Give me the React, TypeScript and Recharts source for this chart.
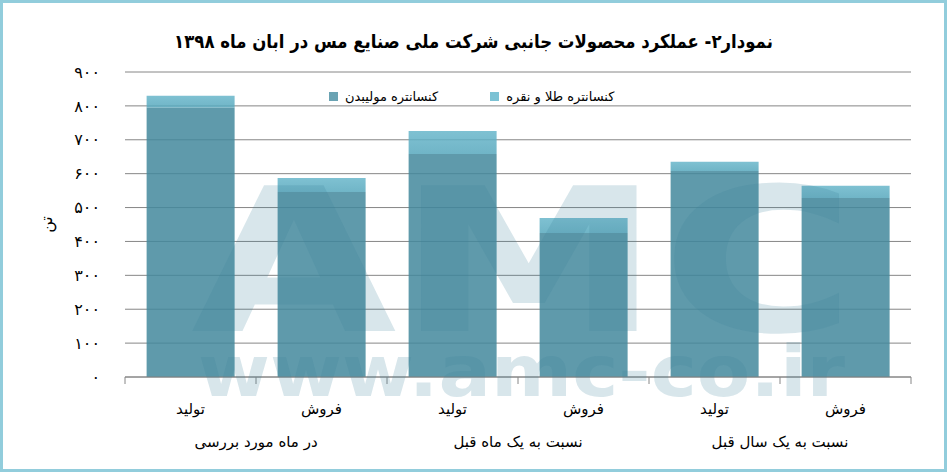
import { BarChart, Bar, XAxis, YAxis, CartesianGrid } from "recharts";

// values (tonnes)
const CATEGORIES = ["تولید", "فروش", "تولید", "فروش", "تولید", "فروش"];
const GROUPS = ["در ماه مورد بررسی", "نسبت به یک ماه قبل", "نسبت به یک سال قبل"];
const MOLYBDENUM = [795, 546, 658, 425, 608, 528];
const GOLD_SILVER = [35, 41, 68, 44, 27, 36];
const Y_TICKS = [0, 100, 200, 300, 400, 500, 600, 700, 800, 900];

const TITLE = "نمودار۲- عملکرد محصولات جانبی شرکت ملی صنایع مس در ابان ماه ۱۳۹۸";
const MO_NAME = "کنسانتره مولیبدن";
const GOLD_NAME = "کنسانتره طلا و نقره";

const data = CATEGORIES.map((name, i) => ({
  name,
  group: GROUPS[Math.floor(i / 2)],
  mo: MOLYBDENUM[i],
  gold: GOLD_SILVER[i],
}));

const W = 947;
const H = 472;
const MARGIN = { top: 72, right: 36, bottom: 14, left: 0 };
const Y_WIDTH = 125;
const BAND = (W - MARGIN.right - Y_WIDTH) / data.length;
const FONT = "'DejaVu Sans', sans-serif";
const AXIS_GRAY = "#868686";

const PERSIAN = "۰۱۲۳۴۵۶۷۸۹";
const toPersian = (v: number) =>
  String(v).replace(/\d/g, (d) => PERSIAN[Number(d)]);

function CategoryTick(props: any) {
  const { x, y, payload, index } = props;
  const left = x - BAND / 2;
  const isLast = index === data.length - 1;
  return (
    <g>
      <line x1={left} y1={y} x2={left} y2={y + 7} stroke={AXIS_GRAY} />
      {isLast && (
        <line x1={left + BAND} y1={y} x2={left + BAND} y2={y + 7} stroke={AXIS_GRAY} />
      )}
      <text x={x} y={y + 37} textAnchor="middle" fontSize={15} fill="#000" fontFamily={FONT}>
        {payload.value}
      </text>
      {index % 2 === 1 && (
        <text x={left} y={y + 70} textAnchor="middle" fontSize={15} fill="#000" fontFamily={FONT}>
          {data[index].group}
        </text>
      )}
    </g>
  );
}

function Swatch({ color }: { color: string }) {
  return <span style={{ display: "inline-block", width: 9, height: 9, background: color, marginRight: 7 }} />;
}

export default function App() {
  return (
    <div
      style={{
        position: "absolute",
        left: 0,
        top: 0,
        width: W,
        height: H,
        boxSizing: "border-box",
        border: "3px solid #92CDDC",
        background: "#fff",
        fontFamily: FONT,
      }}
    >
      <div style={{ position: "absolute", left: -3, top: -3 }}>
        <BarChart width={W} height={H} data={data} margin={MARGIN} barCategoryGap="16.5%">
          <defs>
            <linearGradient id="goldFill" x1="0" y1="0" x2="0" y2="1">
              <stop offset="0%" stopColor="#68B6CA" />
              <stop offset="100%" stopColor="#57A8BD" />
            </linearGradient>
          </defs>
          <CartesianGrid vertical={false} stroke={AXIS_GRAY} />
          <XAxis
            dataKey="name"
            height={81}
            interval={0}
            tickLine={false}
            tickSize={0}
            tickMargin={0}
            axisLine={{ stroke: AXIS_GRAY }}
            tick={CategoryTick}
          />
          <YAxis
            width={Y_WIDTH}
            domain={[0, 900]}
            ticks={Y_TICKS}
            tickFormatter={toPersian}
            axisLine={false}
            tickLine={false}
            tickSize={0}
            tickMargin={25}
            tick={{ fontSize: 16, fill: "#000", fontFamily: FONT }}
            label={{
              value: "تن",
              angle: -90,
              position: "insideLeft",
              offset: 46,
              style: { textAnchor: "middle", fontSize: 16, fill: "#000", fontFamily: FONT },
            }}
          />
          <Bar dataKey="mo" name={MO_NAME} stackId="a" fill="#43889C" fillOpacity={0.85} isAnimationActive={false} />
          <Bar dataKey="gold" name={GOLD_NAME} stackId="a" fill="url(#goldFill)" fillOpacity={0.85} isAnimationActive={false} />
        </BarChart>
      </div>

      {/* watermark */}
      <svg
        width={W}
        height={H}
        style={{ position: "absolute", left: -3, top: -3, pointerEvents: "none" }}
      >
        <g fill="rgb(60,130,155)" fillOpacity={0.2} fontFamily={FONT} fontWeight="bold">
          <text x={191} y={331} fontSize={200} textLength={665} lengthAdjust="spacingAndGlyphs">
            AMC
          </text>
          <text x={198} y={396} fontSize={72} textLength={647} lengthAdjust="spacingAndGlyphs">
            www.amc-co.ir
          </text>
        </g>
      </svg>

      <div
        style={{
          position: "absolute",
          left: -3,
          top: 27,
          width: W,
          textAlign: "center",
          fontSize: 19,
          fontWeight: "bold",
          color: "#000",
          direction: "rtl",
          transform: "scaleX(0.87)",
        }}
      >
        {TITLE}
      </div>

      <div
        style={{
          position: "absolute",
          left: 326,
          top: 86,
          display: "flex",
          alignItems: "center",
          fontSize: 13,
          color: "#000",
        }}
      >
        <Swatch color="#6AA3B3" />
        <span style={{ marginRight: 52 }}>{MO_NAME}</span>
        <Swatch color="#7CC2D4" />
        <span>{GOLD_NAME}</span>
      </div>
    </div>
  );
}
